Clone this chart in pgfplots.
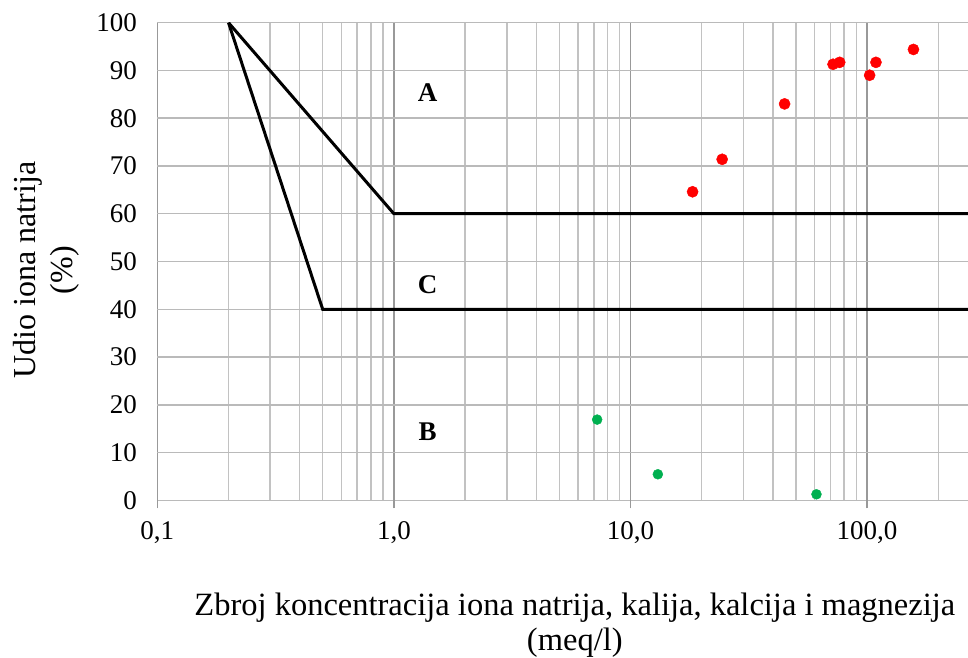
\documentclass[border=0pt]{standalone}
\usepackage{fontspec}
\setmainfont{Liberation Serif}
\usepackage{pgfplots}
\pgfplotsset{compat=1.18}
\definecolor{ptred}{RGB}{255,0,0}
\definecolor{ptgreen}{RGB}{0,176,80}
\begin{document}
\begin{tikzpicture}
\begin{axis}[
  scale only axis,
  width=810.7pt, height=477.6pt,
  xmode=log, log basis x=10,
  xmin=0.1, xmax=267,
  ymin=0, ymax=100,
  ytick={0,10,...,100},
  xtick={0.1,1,10,100},
  minor xtick={0.2,0.3,0.4,0.5,0.6,0.7,0.8,0.9,2,3,4,5,6,7,8,9,20,30,40,50,60,70,80,90,200},
  xticklabels={0{,}1,1{,}0,10{,}0,100{,}0},
  /pgf/number format/assume math mode=true,
  grid=both,
  major grid style={draw=black!27, line width=1.5pt},
  minor grid style={draw=black!24, line width=1.5pt},
  major x grid style={draw=black!40, line width=1.5pt},
  axis line style={draw=none},
  xtick pos=bottom, ytick pos=left,
  tick align=outside,
  major tick length=8pt,
  minor tick length=0pt,
  xtick style={draw=black!40, line width=1.5pt},
  ytick style={draw=none},
  tick label style={font=\fontsize{27}{27}\selectfont},
  yticklabel style={xshift=-9pt},
  xticklabel style={yshift=-10pt},
  xlabel={Zbroj koncentracija iona natrija, kalija, kalcija i magnezija\\(meq/l)},
  xlabel style={align=center, font=\fontsize{32.5}{35}\selectfont, inner sep=0pt,
    at={(axis description cs:0.515,0)}, anchor=north, yshift=-92pt},
  ylabel={Udio iona natrija\\(\%)},
  ylabel style={align=center, font=\fontsize{32}{37}\selectfont, inner sep=0pt,
    at={(axis description cs:-0.0954,0.482)}, anchor=south},
  clip=true,
]
\addplot[black, line width=3pt, line join=miter] coordinates {(0.2,100) (1.0,60) (267,60)};
\addplot[black, line width=3pt, line join=miter] coordinates {(0.2,100) (0.5,40) (267,40)};
\addplot[only marks, mark=*, mark size=5.6pt, ptred, mark options={draw=ptred, fill=ptred}] coordinates {
  (18.3,64.6) (24.4,71.4) (44.8,83.0) (71.8,91.3) (76.6,91.7) (102.5,89.0) (109,91.7) (157,94.4)
};
\addplot[only marks, mark=*, mark size=5.0pt, ptgreen, mark options={draw=ptgreen, fill=ptgreen}] coordinates {
  (7.23,16.9) (13.05,5.45) (61.1,1.26)
};
\node[font=\bfseries\fontsize{27}{27}\selectfont] at (axis cs:1.39,85.3) {A};
\node[font=\bfseries\fontsize{27}{27}\selectfont] at (axis cs:1.39,45.1) {C};
\node[font=\bfseries\fontsize{27}{27}\selectfont] at (axis cs:1.39,14.3) {B};
\end{axis}
\pgfresetboundingbox
\path[use as bounding box] (-157.3pt,-156.7pt) rectangle (810.7pt,500.3pt);
\end{tikzpicture}
\end{document}
